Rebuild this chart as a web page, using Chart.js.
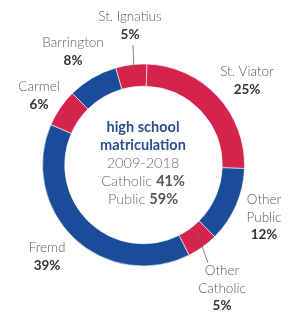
<!DOCTYPE html>
<html>
<head>
<meta charset="utf-8">
<script src="https://cdn.jsdelivr.net/npm/chart.js@4.4.1/dist/chart.umd.min.js"></script>
<style>
  html, body { margin: 0; padding: 0; background: #fff; }
  #wrap { width: 292px; height: 312px; }
</style>
</head>
<body>
<div id="wrap"><canvas id="myChart" width="292" height="312"></canvas></div>
<script>
// data, clockwise from just left of 12 o'clock
const schools = ["St. Ignatius", "St. Viator", "Other Public", "Other Catholic", "Fremd", "Carmel", "Barrington"];
const shares = [5, 25, 12, 5, 39, 6, 8];
const kinds = ["Catholic", "Catholic", "Public", "Catholic", "Public", "Catholic", "Public"];

const RED = "#d4244c";
const BLUE = "#1b4c99";

// outside label text, split over lines
const labelLines = [["St. Ignatius"], ["St. Viator"], ["Other", "Public"], ["Other", "Catholic"], ["Fremd"], ["Carmel"], ["Barrington"]];
// label anchor (centre of first line) and leader line, page px
const labelAt = [
  { x: 130, y: 17, lead: [133, 45, 134, 71] },
  { x: 247, y: 72 },
  { x: 264, y: 200 },
  { x: 222, y: 271, lead: [197, 232, 208, 263] },
  { x: 47, y: 248 },
  { x: 39, y: 87 },
  { x: 73, y: 43 }
];

const labelsPlugin = {
  id: "labels",
  afterDraw(chart) {
    const ctx = chart.ctx;
    ctx.save();
    ctx.textAlign = "center";
    ctx.textBaseline = "middle";
    for (let i = 0; i < schools.length; i++) {
      const p = labelAt[i];
      let y = p.y;
      ctx.font = "300 13.5px Lato";
      ctx.fillStyle = "#5a5a5a";
      labelLines[i].forEach(function (t) {
        ctx.fillText(t, p.x, y);
        y += 17.5;
      });
      ctx.font = "bold 13.5px Lato";
      ctx.fillStyle = "#333";
      ctx.fillText(shares[i] + "%", p.x, y);
      if (p.lead) {
        ctx.strokeStyle = "#666";
        ctx.lineWidth = 0.8;
        ctx.beginPath();
        ctx.moveTo(p.lead[0], p.lead[1]);
        ctx.lineTo(p.lead[2], p.lead[3]);
        ctx.stroke();
      }
    }

    // centre text
    let cath = 0, pub = 0;
    shares.forEach(function (v, i) { if (kinds[i] === "Catholic") cath += v; else pub += v; });
    const cx = 143;
    ctx.fillStyle = "#2a4f8f";
    ctx.font = "bold 14.5px Lato";
    ctx.fillText("high school", cx, 127);
    ctx.fillText("matriculation", cx, 145);
    ctx.font = "300 14.5px Lato";
    ctx.fillStyle = "#6a6a6a";
    ctx.fillText("2009-2018", cx, 163);
    drawMixed(ctx, cx, 181, "Catholic ", cath + "%");
    drawMixed(ctx, cx, 199, "Public ", pub + "%");
    ctx.restore();
  }
};

function drawMixed(ctx, cx, y, a, b) {
  ctx.font = "300 14.5px Lato";
  const wa = ctx.measureText(a).width;
  ctx.font = "bold 14.5px Lato";
  const wb = ctx.measureText(b).width;
  const x0 = cx - (wa + wb) / 2;
  ctx.textAlign = "left";
  ctx.font = "300 14.5px Lato";
  ctx.fillStyle = "#6a6a6a";
  ctx.fillText(a, x0, y);
  ctx.font = "bold 14.5px Lato";
  ctx.fillStyle = "#555";
  ctx.fillText(b, x0 + wa, y);
  ctx.textAlign = "center";
}

let ctx = document.getElementById("myChart");

let myChart = new Chart(ctx, {
  type: "doughnut",
  data: {
    labels: schools,
    datasets: [
      {
        data: shares,
        backgroundColor: kinds.map(function (k) { return k === "Catholic" ? RED : BLUE; }),
        borderColor: "rgba(255,255,255,0.6)",
        borderWidth: 1,
      },
    ],
  },
  options: {
    responsive: false,
    animation: false,
    rotation: -16,
    cutout: "78%",
    layout: {
      padding: { left: 42, right: 47, top: 63, bottom: 45 },
    },
    plugins: {
      legend: { display: false },
      tooltip: { enabled: false },
    },
  },
  plugins: [labelsPlugin],
});
</script>
</body>
</html>
